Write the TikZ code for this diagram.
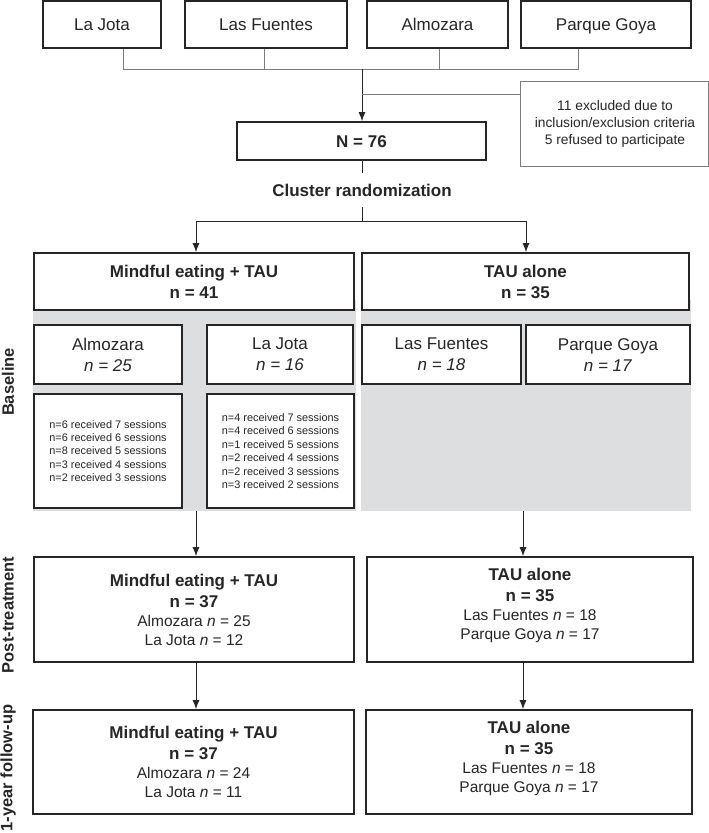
\documentclass[tikz,border=0pt]{standalone}
\usepackage{fontspec}
\setmainfont{Liberation Sans}
\usetikzlibrary{arrows.meta}
\definecolor{panel}{RGB}{221,222,224}
\definecolor{ink}{RGB}{38,38,38}
\definecolor{thin}{RGB}{125,125,125}
\begin{document}
\begin{tikzpicture}[x=1pt,y=-1pt,
  box/.style={draw=ink, line width=1.6pt, fill=white, inner sep=0pt, rectangle},
  gbox/.style={draw=thin, line width=1pt, fill=white, inner sep=0pt, rectangle},
  conn/.style={draw=ink, line width=1pt},
  arr/.style={conn, -{Latex[length=9pt,width=7pt]}},
  gline/.style={draw=thin, line width=1pt},
  txt/.style={text=ink, inner sep=0pt, align=center},
  big/.style={font=\fontsize{17}{21}\selectfont},
  bigone/.style={font=\fontsize{17}{21}\selectfont, text height=12.2pt, text depth=0pt},
  bigb/.style={font=\bfseries\fontsize{17}{21}\selectfont},
  mid/.style={font=\fontsize{15.5}{19}\selectfont},
  small/.style={font=\fontsize{10.9}{13.4}\selectfont},
  excl/.style={font=\fontsize{13.8}{17}\selectfont},
  side/.style={text=ink, inner sep=0pt, rotate=90, font=\bfseries\fontsize{16.5}{20}\selectfont}
]
\useasboundingbox (0,0) rectangle (709,833);

% gray panels
\fill[panel] (33,300) rectangle (356,511);
\fill[panel] (361,300) rectangle (691,511);

% top sites
\node[box, minimum width=118, minimum height=47] (tjota) at (102,24.5) {};
\node[box, minimum width=162, minimum height=47] (tfuen) at (266,24.5) {};
\node[box, minimum width=141, minimum height=47] (talmo) at (437.5,24.5) {};
\node[box, minimum width=170, minimum height=47] (tgoya) at (606,24.5) {};
\node[txt, bigone] (ttjota) at (tjota.center) {La Jota};
\node[txt, bigone] (ttfuen) at (tfuen.center) {Las Fuentes};
\node[txt, bigone] (ttalmo) at (talmo.center) {Almozara};
\node[txt, bigone] (ttgoya) at (tgoya.center) {Parque Goya};

% bracket
\draw[gline] ([xshift=21pt]tjota.south) -- ++(0,21) -| ([xshift=-28pt]tgoya.south);
\draw[gline] ([xshift=-2pt]tfuen.south) -- ++(0,21);
\draw[gline] ([xshift=1.5pt]talmo.south) -- ++(0,21);
\coordinate (hub) at (362,69);
\coordinate (exj) at (362,94);

% N = 76 and exclusions
\node[box, minimum width=249, minimum height=38] (n76) at (361.5,141) {};
\node[txt, bigb, text height=12.2pt, text depth=0pt] (tn76) at (n76.center) {N = 76};
\node[gbox, minimum width=188, minimum height=85] (exc) at (614,123.5) {};
\node[txt, excl] (texc) at (615,123.5) {11 excluded due to\\inclusion/exclusion criteria\\5 refused to participate};
\draw[arr] (hub) -- (hub |- n76.north);
\draw[gline] (exj) -- (exj -| exc.west);

% randomization
\node[txt, bigb, minimum height=34] (crand) at (362,190) {Cluster randomization};
\draw[conn] (n76.south -| hub) -- (crand.north -| hub);
\coordinate (split) at (362,221);
\draw[conn] (crand.south -| hub) -- (split);

% arms
\node[box, minimum width=320, minimum height=57] (mind) at (194,281.5) {};
\node[box, minimum width=327, minimum height=57] (tau) at (525.5,281.5) {};
\node[txt, bigb] (tmind) at (mind.center) {Mindful eating + TAU\\n = 41};
\node[txt, bigb] (ttau) at (tau.center) {TAU alone\\n = 35};
\coordinate (sl) at (196,221);
\coordinate (sr) at (526,221);
\draw[conn] (sl) -- (sr);
\draw[arr] (sl) -- (sl |- mind.north);
\draw[arr] (sr) -- (sr |- tau.north);

% baseline sites
\node[box, minimum width=148, minimum height=59] (balmo) at (108,354.5) {};
\node[box, minimum width=146, minimum height=59] (bjota) at (280,354.5) {};
\node[box, minimum width=159, minimum height=59] (bfuen) at (441.5,354.5) {};
\node[box, minimum width=164, minimum height=59] (bgoya) at (608,354.5) {};
\node[txt, big] (tbalmo) at (balmo.center) {Almozara\\\textit{n = 25}};
\node[txt, big] (tbjota) at (bjota.center) {La Jota\\\textit{n = 16}};
\node[txt, big] (tbfuen) at (bfuen.center) {Las Fuentes\\\textit{n = 18}};
\node[txt, big] (tbgoya) at ([yshift=-1pt]bgoya.center) {Parque Goya\\\textit{n = 17}};

% sessions
\node[box, minimum width=148, minimum height=114] (s1) at (108,451) {};
\node[box, minimum width=147, minimum height=114] (s2) at (280.5,451) {};
\node[txt, small, align=left] (ts1) at (s1.center) {n=6 received 7 sessions\\n=6 received 6 sessions\\n=8 received 5 sessions\\n=3 received 4 sessions\\n=2 received 3 sessions};
\node[txt, small, align=left] (ts2) at (s2.center) {n=4 received 7 sessions\\n=4 received 6 sessions\\n=1 received 5 sessions\\n=2 received 4 sessions\\n=2 received 3 sessions\\n=3 received 2 sessions};

% post-treatment
\node[box, minimum width=320, minimum height=105] (post1) at (194,609.5) {};
\node[box, minimum width=326, minimum height=105] (post2) at (530,609.5) {};
\node[txt, mid] (tpost1) at (post1.center) {{\bfseries\fontsize{17}{21}\selectfont Mindful eating + TAU}\\[2pt]{\bfseries\fontsize{17}{21}\selectfont n = 37}\\Almozara \textit{n} = 25\\La Jota \textit{n} = 12};
\node[txt, mid] (tpost2) at ([yshift=4pt]post2.center) {{\bfseries\fontsize{17}{21}\selectfont TAU alone}\\[2pt]{\bfseries\fontsize{17}{21}\selectfont n = 35}\\Las Fuentes \textit{n} = 18\\Parque Goya \textit{n} = 17};
\coordinate (gl) at (196,511);
\coordinate (gr) at (523,511);
\draw[arr] (gl) -- (gl |- post1.north);
\draw[arr] (gr) -- (gr |- post2.north);

% follow-up
\node[box, minimum width=321, minimum height=104] (fu1) at (193.5,762) {};
\node[box, minimum width=326, minimum height=104] (fu2) at (529,762) {};
\node[txt, mid] (tfu1) at (fu1.center) {{\bfseries\fontsize{17}{21}\selectfont Mindful eating + TAU}\\[2pt]{\bfseries\fontsize{17}{21}\selectfont n = 37}\\Almozara \textit{n} = 24\\La Jota \textit{n} = 11};
\node[txt, mid] (tfu2) at ([yshift=4pt]fu2.center) {{\bfseries\fontsize{17}{21}\selectfont TAU alone}\\[2pt]{\bfseries\fontsize{17}{21}\selectfont n = 35}\\Las Fuentes \textit{n} = 18\\Parque Goya \textit{n} = 17};
\draw[arr] (post1.south -| gl) -- (fu1.north -| gl);
\draw[arr] (post2.south -| gr) -- (fu2.north -| gr);

% side labels
\node[side] (lbase) at (8,382) {Baseline};
\node[side] (lpost) at (8,615) {Post-treatment};
\node[side] (lfu) at (8,768) {1-year follow-up};
\end{tikzpicture}
\end{document}
